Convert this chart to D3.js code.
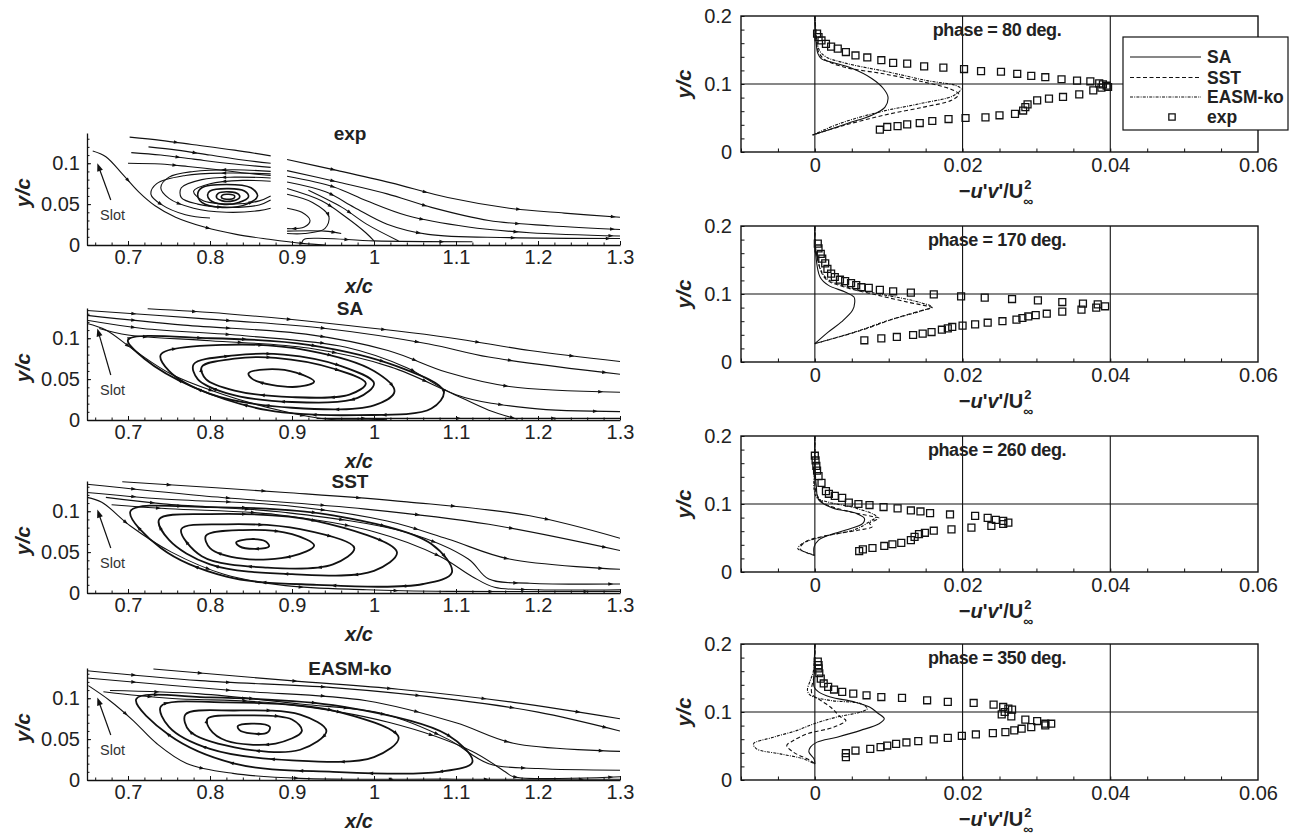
<!DOCTYPE html>
<html>
<head>
<meta charset="utf-8">
<script src="https://cdn.jsdelivr.net/npm/d3@7"></script>
<style>
  body { margin: 0; background: #fff; }
  svg, svg text { font-family: "Liberation Sans", Arial, Helvetica, sans-serif; }
  .tick text { font-size: 20px; fill: #222; font-family: "Liberation Sans", Arial, sans-serif; }
  .domain, .tick line { stroke: #111; }
</style>
</head>
<body>
<script>
// ---- left column: streamline panels ----
const leftTitles = ["exp", "SA", "SST", "EASM-ko"];
const leftXTicks = [0.7, 0.8, 0.9, 1, 1.1, 1.2, 1.3];
const leftYTicks = [0, 0.05, 0.1];
const slotTipY = [0.1, 0.112, 0.102, 0.101];

const expLines = [
  [[.657,.115],[.673,.108],[.693,.087],[.713,.065],[.733,.048],[.758,.034],[.793,.022],[.832,.013],[.872,.007],[.912,.002],[.941,0]],
  [[.702,.132],[.74,.128],[.778,.123],[.83,.116],[.874,.109]],
  [[.725,.12],[.76,.116],[.8,.11],[.84,.104],[.874,.1]],
  [[.704,.113],[.74,.11],[.78,.105],[.83,.099],[.874,.095]],
  [[.70,.1],[.74,.099],[.773,.096],[.81,.092],[.842,.088],[.874,.085]],
  [[.874,.09],[.83,.092],[.78,.09],[.75,.083],[.74,.07],[.75,.057],[.78,.045],[.82,.04],[.86,.042],[.874,.045]],
  [[.874,.087],[.82,.088],[.77,.085],[.735,.075],[.728,.062],[.74,.05],[.77,.037],[.8,.033]],
  [[.874,.082],[.83,.083],[.79,.08],[.765,.07],[.765,.058],[.785,.05],[.82,.046],[.86,.049],[.874,.055]],
  [[.874,.078],[.84,.079],[.8,.075],[.78,.066],[.79,.055],[.825,.05],[.86,.054],[.874,.06]],
  [[.894,.1045],[.956,.091],[1.021,.076],[1.09,.058],[1.165,.045],[1.232,.039],[1.3,.034]],
  [[.894,.091],[.956,.077],[1.016,.0625],[1.07,.046],[1.14,.03],[1.215,.0235],[1.3,.019]],
  [[.894,.084],[.951,.071],[.991,.054],[1.04,.036],[1.115,.022],[1.19,.015],[1.3,.011]],
  [[.894,.077],[.941,.065],[.976,.046],[1.016,.0255],[1.066,.013],[1.165,.009],[1.3,.008]],
  [[.894,.069],[.936,.054],[.966,.034],[.99,.015],[1.0,.005]],
  [[.92,.067],[.961,.046],[.991,.0255],[1.03,.005]],
  [[.894,.062],[.925,.052],[.945,.035],[.94,.02],[.915,.014],[.894,.014]],
  [[.894,.045],[.912,.04],[.922,.03],[.915,.022],[.894,.02]],
  [[.894,.017],[.94,.017],[.96,.014]],
  [[.912,.003],[.915,.007],[.94,.008],[1.0,.005],[1.12,.004]]
];
const expLoops = [
  [[.79,.07],[.82,.074],[.85,.07],[.858,.06],[.845,.05],[.815,.046],[.79,.052],[.785,.062]],
  [[.80,.066],[.823,.069],[.842,.066],[.847,.059],[.835,.052],[.815,.05],[.8,.055],[.797,.061]],
  [[.81,.063],[.823,.065],[.835,.062],[.836,.058],[.828,.054],[.815,.054],[.808,.058]],
  [[.815,.061],[.823,.062],[.83,.06],[.829,.057],[.82,.056],[.814,.058]]
];

const saLines = [
  [[.724,.136],[.82,.13],[.946,.118],[1.09,.101],[1.19,.085],[1.3,.0715]],
  [[.65,.134],[.79,.124],[.941,.112],[1.067,.093],[1.14,.077],[1.3,.056]],
  [[.65,.128],[.768,.116],[.917,.105],[1.017,.085],[1.09,.058],[1.165,.041],[1.3,.034]],
  [[.65,.122],[.718,.112],[.842,.103],[.966,.089],[1.04,.064],[1.1,.031],[1.19,.0145],[1.3,.0103]],
  [[.65,.118],[.673,.11],[.708,.085],[.753,.056],[.817,.031],[.891,.0103],[.941,.0012],[1.016,.001]],
  [[.665,.112],[.7,.104],[.8,.097],[.92,.088],[1.02,.065],[1.09,.035],[1.14,.012],[1.175,.001]],
  [[.93,.002],[1.1,.002],[1.3,.002]]
];
const saLoops = [
  [[.847,.057],[.87,.062],[.905,.058],[.927,.047],[.91,.041],[.875,.043],[.852,.05]],
  [[.79,.065],[.83,.075],[.88,.076],[.95,.063],[.99,.045],[.97,.031],[.9,.028],[.83,.036],[.795,.05]],
  [[.78,.068],[.83,.079],[.89,.08],[.96,.066],[1.0,.045],[.98,.027],[.9,.022],[.82,.033],[.785,.05]],
  [[.74,.08],[.82,.092],[.92,.085],[1.0,.06],[1.025,.035],[1.0,.018],[.9,.015],[.8,.032],[.75,.06]],
  [[.70,.098],[.8,.1],[.92,.092],[1.03,.065],[1.085,.035],[1.07,.014],[.98,.006],[.87,.012],[.78,.04],[.72,.075]]
];

const sstLines = [
  [[.693,.136],[.892,.123],[1.04,.1115],[1.19,.0945],[1.3,.067]],
  [[.65,.133],[.79,.119],[.99,.1026],[1.14,.084],[1.3,.052]],
  [[.65,.123],[.743,.115],[.892,.107],[1.016,.088],[1.09,.066],[1.165,.0415],[1.3,.029]],
  [[.673,.117],[.743,.109],[.892,.0985],[1.04,.074],[1.115,.0415],[1.14,.017],[1.19,.012],[1.3,.011]],
  [[.65,.117],[.668,.111],[.703,.082],[.753,.05],[.817,.023],[.892,.009],[.991,.004],[1.09,.002],[1.3,.002]],
  [[.68,.108],[.75,.103],[.88,.096],[1.0,.075],[1.08,.045],[1.12,.02],[1.147,.007],[1.2,.004],[1.3,.004]]
];
const sstLoops = [
  [[.832,.062],[.85,.066],[.868,.063],[.872,.057],[.855,.054],[.836,.057]],
  [[.795,.07],[.84,.077],[.9,.072],[.927,.058],[.9,.045],[.84,.042],[.8,.055]],
  [[.765,.078],[.82,.084],[.91,.078],[.976,.055],[.95,.035],[.87,.031],[.79,.045]],
  [[.738,.09],[.8,.0965],[.93,.088],[1.028,.05],[1.0,.027],[.9,.023],[.8,.035],[.75,.065]],
  [[.703,.1],[.8,.105],[.95,.095],[1.07,.06],[1.095,.025],[1.06,.011],[.93,.01],[.82,.02],[.74,.055]]
];

const easmLines = [
  [[.731,.1357],[.898,.1215],[1.03,.111],[1.17,.095],[1.3,.075]],
  [[.65,.1337],[.788,.1215],[.95,.113],[1.1,.098],[1.2,.083],[1.3,.06]],
  [[.65,.1248],[.828,.1094],[.991,.097],[1.1,.07],[1.17,.045],[1.3,.035]],
  [[.678,.1094],[.788,.1053],[.91,.093],[1.011,.081],[1.09,.05],[1.14,.02],[1.2,.014],[1.3,.012]],
  [[.6516,.1154],[.678,.097],[.706,.073],[.735,.0446],[.7716,.0203],[.828,.0081],[.91,.002],[1.1,.001],[1.3,.001]],
  [[.67,.108],[.75,.1],[.88,.094],[1.02,.07],[1.12,.035],[1.16,.01],[1.17,.004],[1.3,.004]]
];
const easmLoops = [
  [[.834,.066],[.853,.069],[.873,.065],[.87,.058],[.85,.057],[.836,.061]],
  [[.797,.075],[.84,.079],[.9,.074],[.912,.06],[.88,.0446],[.82,.048],[.8,.062]],
  [[.77,.08],[.83,.085],[.91,.08],[.942,.06],[.91,.037],[.83,.04],[.775,.06]],
  [[.74,.09],[.82,.095],[.95,.085],[1.03,.052],[1.0,.028],[.9,.024],[.8,.038],[.75,.065]],
  [[.71,.099],[.8,.101],[.96,.09],[1.09,.055],[1.12,.022],[1.08,.01],[.95,.01],[.83,.02],[.75,.055]]
];

// ---- right column: -u'v' profiles ----
const phases = [80, 170, 260, 350];
const rightXTicks = [0, 0.02, 0.04, 0.06];
const rightYTicks = [0, 0.1, 0.2];
const seriesNames = ["SA", "SST", "EASM-ko", "exp"];

const sa = [
  [[0,.2],[.0001,.174],[.0004,.145],[.0009,.137],[.0023,.132],[.005,.123],[.0077,.108],[.0093,.093],[.0099,.081],[.0095,.066],[.0077,.054],[.0044,.042],[.0017,.032],[-.0003,.025]],
  [[0,.2],[.0001,.16],[.0007,.125],[.0018,.113],[.0041,.103],[.0053,.0956],[.0054,.088],[.0051,.076],[.0036,.059],[.0018,.044],[0,.027]],
  [[0,.2],[0,.16],[.0002,.126],[.0005,.1065],[.0024,.094],[.0055,.0866],[.0067,.079],[.0065,.0716],[.0042,.0617],[.0019,.0542],[.0005,.0468],[-.0001,.0368],[-.0001,.0244]],
  [[0,.2],[-.0001,.16],[-.0001,.137],[.0005,.1296],[.0021,.122],[.0053,.115],[.0074,.1074],[.0085,.0985],[.0094,.090],[.0087,.0828],[.0062,.073],[.003,.063],[.0003,.0557],[-.0006,.0483],[-.0008,.0409],[-.0001,.031],[0,.0236]]
];
const sst = [
  [[0,.2],[.0002,.17],[.0004,.15],[.0012,.137],[.0039,.125],[.0093,.115],[.0147,.103],[.0185,.092],[.0195,.085],[.0185,.076],[.0147,.066],[.0093,.054],[.0039,.039],[-.0003,.025]],
  [[0,.2],[.0002,.16],[.0014,.123],[.0041,.110],[.0086,.098],[.0126,.088],[.0153,.082],[.0159,.080],[.0149,.077],[.0108,.064],[.0063,.0466],[0,.027]],
  [[0,.2],[0,.16],[.0002,.116],[.0012,.1015],[.0046,.089],[.0078,.0816],[.0087,.079],[.0074,.0716],[.0078,.0667],[.006,.0617],[.0019,.0542],[-.0013,.0443],[-.002,.0343],[-.0008,.0269],[0,.0244]],
  [[0,.2],[0,.16],[-.0004,.127],[.0008,.117],[.0021,.1074],[.0028,.1],[.0035,.0926],[.0042,.0877],[.0026,.0778],[-.001,.068],[-.0029,.0581],[-.0038,.0507],[-.0029,.0409],[-.0006,.0286],[0,.0236]]
];
const easm = [
  [[0,.2],[.0002,.17],[.0006,.15],[.0015,.14],[.0044,.130],[.0098,.118],[.0152,.105],[.019,.098],[.0198,.093],[.0188,.083],[.0142,.071],[.0088,.059],[.0034,.042],[-.0003,.025]],
  [[0,.2],[.0002,.16],[.0014,.125],[.0045,.110],[.009,.0995],[.0135,.0897],[.0158,.081],[.0147,.076],[.0099,.061],[.0054,.044],[0,.027]],
  [[0,.2],[0,.16],[-.0001,.121],[.0003,.109],[.0019,.1025],[.0055,.094],[.0083,.0816],[.0074,.0741],[.0055,.0627],[.001,.0517],[-.0017,.0418],[-.0023,.0343],[-.0013,.0294],[0,.0244]],
  [[0,.2],[-.0002,.16],[-.0006,.147],[-.001,.132],[-.0006,.1246],[.0021,.117],[.0062,.1123],[.0071,.105],[.0062,.1],[.003,.0926],[-.0001,.0828],[-.0024,.073],[-.0056,.063],[-.0083,.0532],[-.0079,.0458],[-.0047,.0384],[-.0015,.031],[0,.0236]]
];
const expData = [
  [[.0003,.174],[.0005,.169],[.0009,.164],[.0015,.159],[.0022,.155],[.0031,.152],[.0042,.147],[.0055,.142],[.0071,.139],[.009,.135],[.0106,.131],[.0125,.130],[.0148,.126],[.0174,.124],[.0202,.122],[.0225,.119],[.0252,.118],[.0274,.115],[.0293,.112],[.0312,.110],[.0334,.107],[.0355,.105],[.0373,.104],[.0385,.101],[.039,.0995],[.0395,.0975],[.0397,.0956],[.0388,.0946],[.0377,.0907],[.0358,.0848],[.0336,.0809],[.0317,.0784],[.0301,.076],[.0288,.070],[.0285,.066],[.0282,.061],[.0271,.056],[.025,.054],[.0231,.051],[.0204,.050],[.0181,.0485],[.0159,.0456],[.0142,.0426],[.0125,.0407],[.0112,.038],[.0098,.0368],[.0088,.0328]],
  [[.0004,.174],[.0005,.167],[.0008,.159],[.001,.152],[.0014,.145],[.0017,.137],[.0022,.130],[.0027,.125],[.0034,.121],[.0041,.119],[.0049,.116],[.0056,.113],[.0063,.110],[.0073,.109],[.0088,.106],[.0106,.104],[.013,.102],[.0161,.0995],[.0198,.0966],[.023,.0946],[.0267,.0926],[.0302,.0907],[.0335,.0882],[.0363,.0858],[.0383,.0848],[.0393,.0819],[.0381,.080],[.0361,.077],[.0335,.074],[.0314,.071],[.0299,.069],[.0289,.067],[.0281,.0647],[.0273,.0623],[.0254,.060],[.0234,.0578],[.0217,.0554],[.02,.0534],[.0186,.0515],[.018,.0495],[.0172,.0475],[.0158,.0441],[.0146,.0417],[.0133,.0397],[.0111,.0368],[.009,.0348],[.0067,.0319]],
  [[0,.171],[.0001,.164],[.0002,.156],[.0003,.149],[.0005,.141],[.0009,.131],[.0015,.119],[.0019,.115],[.0027,.112],[.0037,.109],[.0046,.102],[.0059,.100],[.0074,.0985],[.0093,.0955],[.0112,.0935],[.013,.0905],[.0143,.089],[.0156,.0866],[.0183,.0846],[.0217,.0826],[.0234,.0796],[.0245,.0766],[.0255,.0751],[.0262,.0726],[.0255,.0706],[.0239,.0677],[.0212,.0652],[.0185,.0627],[.0161,.0607],[.0149,.0577],[.0141,.0557],[.0135,.0517],[.013,.0468],[.0117,.0428],[.0105,.0408],[.0094,.0383],[.0078,.0353],[.0065,.0333],[.006,.0308]],
  [[.0004,.174],[.0005,.169],[.0005,.164],[.0006,.157],[.0008,.149],[.0012,.142],[.0018,.137],[.0026,.133],[.0037,.1296],[.0052,.127],[.007,.1246],[.009,.122],[.0118,.1207],[.0152,.1172],[.018,.1148],[.0215,.1133],[.0242,.1108],[.0255,.1074],[.0262,.105],[.0267,.1034],[.0257,.1],[.0253,.0966],[.0266,.0936],[.0285,.0887],[.0301,.0867],[.0312,.0828],[.032,.0828],[.0312,.0803],[.0293,.0778],[.028,.0754],[.027,.0729],[.0258,.0704],[.0241,.069],[.0218,.067],[.0199,.065],[.018,.062],[.0161,.0596],[.014,.0571],[.0124,.0552],[.011,.0532],[.0098,.0507],[.0089,.0483],[.0075,.0458],[.0055,.0433],[.0042,.0394],[.0042,.0335]]
];

// ---- layout ----
const width = 1291, height = 836;
const leftBottoms = [245, 420, 593, 780];
const rightTops = [16, 226, 436, 644];
const dashes = {"SA": null, "SST": "4,2.5", "EASM-ko": "3,1.2,1,1.2"};

const svg = d3.select("body").append("svg")
    .attr("width", width)
    .attr("height", height);

const defs = svg.append("defs");
const fmt = d => String(+d.toFixed(3));

// arrowheads placed along a drawn streamline
function addArrows(g, node, spacing) {
  const total = node.getTotalLength();
  for (let L = spacing * 0.5; L < total - 4; L += spacing) {
    const p = node.getPointAtLength(L);
    const q = node.getPointAtLength(Math.min(total, L + 1));
    const ang = Math.atan2(q.y - p.y, q.x - p.x) * 180 / Math.PI;
    g.append("path")
      .attr("d", "M2,0L-3,-1.8L-3,1.8Z")
      .attr("fill", "#111")
      .attr("transform", `translate(${p.x},${p.y}) rotate(${ang})`);
  }
}

const xL = d3.scaleLinear().domain([0.65, 1.3]).range([87, 620]);
const leftSets = [
  {lines: expLines, loops: expLoops},
  {lines: saLines, loops: saLoops},
  {lines: sstLines, loops: sstLoops},
  {lines: easmLines, loops: easmLoops}
];

leftSets.forEach((set, i) => {
  const bottom = leftBottoms[i];
  const yL = d3.scaleLinear().domain([0, 0.137]).range([bottom, bottom - 112]);
  const g = svg.append("g");

  defs.append("clipPath").attr("id", "clipL" + i)
    .append("rect")
      .attr("x", xL(0.65)).attr("y", yL(0.137))
      .attr("width", xL(1.3) - xL(0.65)).attr("height", yL(0) - yL(0.137));

  const plot = g.append("g").attr("clip-path", `url(#clipL${i})`);
  const line = d3.line().x(d => xL(d[0])).y(d => yL(d[1])).curve(d3.curveCatmullRom);
  const loop = d3.line().x(d => xL(d[0])).y(d => yL(d[1])).curve(d3.curveCatmullRomClosed);

  set.lines.forEach(pts => {
    const p = plot.append("path")
      .attr("d", line(pts))
      .attr("fill", "none")
      .attr("stroke", "#111")
      .attr("stroke-width", 1.1);
    addArrows(plot, p.node(), 95);
  });
  set.loops.forEach(pts => {
    const p = plot.append("path")
      .attr("d", loop(pts))
      .attr("fill", "none")
      .attr("stroke", "#111")
      .attr("stroke-width", i === 0 ? 1.6 : 1.8);
    if (i > 0) addArrows(plot, p.node(), 70);
  });

  // axes (left and bottom only, ticks pointing inward)
  g.append("g").attr("transform", `translate(0,${bottom})`)
    .call(d3.axisBottom(xL).tickValues(leftXTicks).tickFormat(fmt).tickSize(-4).tickSizeOuter(0).tickPadding(5));
  g.append("g").attr("transform", `translate(0,${bottom})`)
    .call(d3.axisBottom(xL).tickValues(d3.range(33).map(k => 0.66 + k * 0.02).filter(v => v < 1.3)).tickFormat("").tickSize(-2.5).tickSizeOuter(0))
    .select(".domain").remove();
  g.append("g").attr("transform", `translate(${xL(0.65)},0)`)
    .call(d3.axisLeft(yL).tickValues(leftYTicks).tickFormat(fmt).tickSize(-4).tickSizeOuter(0).tickPadding(7));
  g.append("g").attr("transform", `translate(${xL(0.65)},0)`)
    .call(d3.axisLeft(yL).tickValues(d3.range(14).map(k => k * 0.01)).tickFormat("").tickSize(-2.5).tickSizeOuter(0))
    .select(".domain").remove();
  g.selectAll(".domain").attr("stroke-width", 1.3);

  g.append("text")
    .attr("x", 350).attr("y", yL(0.137) + 7)
    .attr("text-anchor", "middle")
    .attr("font-size", 19).attr("font-weight", "bold").attr("fill", "#222")
    .text(leftTitles[i]);

  g.append("text")
    .attr("transform", `translate(30,${yL(0.064)}) rotate(-90)`)
    .attr("text-anchor", "middle")
    .attr("font-size", 21).attr("font-weight", "bold").attr("font-style", "italic").attr("fill", "#222")
    .text("y/c");

  g.append("text")
    .attr("x", 359).attr("y", bottom + 48)
    .attr("text-anchor", "middle")
    .attr("font-size", 20).attr("font-weight", "bold").attr("font-style", "italic").attr("fill", "#222")
    .text("x/c");

  // Slot annotation
  const tail = [xL(0.679), yL(0.055)];
  const tip = [xL(0.6626), yL(slotTipY[i])];
  const ang = Math.atan2(tip[1] - tail[1], tip[0] - tail[0]);
  const head = [tip[0] - 7 * Math.cos(ang), tip[1] - 7 * Math.sin(ang)];
  g.append("line")
    .attr("x1", tail[0]).attr("y1", tail[1]).attr("x2", head[0]).attr("y2", head[1])
    .attr("stroke", "#111").attr("stroke-width", 1.2);
  g.append("path")
    .attr("d", "M0,0L-8,-3L-8,3Z")
    .attr("fill", "#111")
    .attr("transform", `translate(${tip[0]},${tip[1]}) rotate(${ang * 180 / Math.PI})`);
  g.append("text")
    .attr("x", xL(0.6659)).attr("y", yL(0.031))
    .attr("font-size", 14.5).attr("fill", "#333")
    .text("Slot");
});

// ---- right column ----
const xR = d3.scaleLinear().domain([-0.01, 0.06]).range([741, 1258]);

phases.forEach((phase, i) => {
  const top = rightTops[i];
  const yR = d3.scaleLinear().domain([0, 0.2]).range([top + 136, top]);
  const g = svg.append("g");

  defs.append("clipPath").attr("id", "clipR" + i)
    .append("rect")
      .attr("x", xR(-0.01)).attr("y", top)
      .attr("width", xR(0.06) - xR(-0.01)).attr("height", 136);

  // grid lines
  g.selectAll(".vgrid").data([0, 0.02, 0.04]).join("line")
    .attr("x1", d => xR(d)).attr("x2", d => xR(d))
    .attr("y1", top).attr("y2", top + 136)
    .attr("stroke", "#111").attr("stroke-width", 1.1);
  g.append("line")
    .attr("x1", xR(-0.01)).attr("x2", xR(0.06))
    .attr("y1", yR(0.1)).attr("y2", yR(0.1))
    .attr("stroke", "#111").attr("stroke-width", 1.1);

  g.append("g").attr("transform", `translate(0,${top + 136})`)
    .call(d3.axisBottom(xR).tickValues(rightXTicks).tickFormat(fmt).tickSize(0).tickSizeOuter(0).tickPadding(6))
    .select(".domain").remove();
  g.append("g").attr("transform", `translate(0,${top + 136})`)
    .call(d3.axisBottom(xR).tickValues(d3.range(14).map(k => -0.01 + k * 0.005)).tickFormat("").tickSize(-3.5).tickSizeOuter(0))
    .select(".domain").remove();
  g.append("g").attr("transform", `translate(${xR(-0.01)},0)`)
    .call(d3.axisLeft(yR).tickValues(rightYTicks).tickFormat(fmt).tickSize(0).tickSizeOuter(0).tickPadding(9))
    .select(".domain").remove();
  g.append("g").attr("transform", `translate(${xR(-0.01)},0)`)
    .call(d3.axisLeft(yR).tickValues(d3.range(11).map(k => k * 0.02)).tickFormat("").tickSize(-3.5).tickSizeOuter(0))
    .select(".domain").remove();

  g.append("rect")
    .attr("x", xR(-0.01)).attr("y", top)
    .attr("width", xR(0.06) - xR(-0.01)).attr("height", 136)
    .attr("fill", "none").attr("stroke", "#111").attr("stroke-width", 1.4);

  const plot = g.append("g").attr("clip-path", `url(#clipR${i})`);
  const line = d3.line().x(d => xR(d[0])).y(d => yR(d[1])).curve(d3.curveCatmullRom);
  [["SA", sa[i]], ["SST", sst[i]], ["EASM-ko", easm[i]]].forEach(([name, pts]) => {
    plot.append("path")
      .attr("d", line(pts))
      .attr("fill", "none")
      .attr("stroke", "#111")
      .attr("stroke-width", 1.1)
      .attr("stroke-dasharray", dashes[name]);
  });

  plot.selectAll(".exp").data(expData[i]).join("path")
    .attr("d", d3.symbol(d3.symbolSquare, 48))
    .attr("transform", d => `translate(${xR(d[0])},${yR(d[1])})`)
    .attr("fill", "none")
    .attr("stroke", "#111")
    .attr("stroke-width", 1.3);

  g.append("text")
    .attr("x", 997).attr("y", top + 20)
    .attr("text-anchor", "middle")
    .attr("font-size", 18).attr("font-weight", "bold").attr("fill", "#222")
    .attr("letter-spacing", -0.4)
    .text(`phase = ${phase} deg.`);

  g.append("text")
    .attr("transform", `translate(691,${top + 68}) rotate(-90)`)
    .attr("text-anchor", "middle")
    .attr("font-size", 21).attr("font-weight", "bold").attr("font-style", "italic").attr("fill", "#222")
    .text("y/c");

  // x title: -u'v'/U with stacked superscript 2 and subscript infinity
  const base = top + 136 + 46;
  const xt = g.append("text")
    .attr("x", 0).attr("y", base)
    .attr("font-size", 20).attr("font-weight", "bold").attr("fill", "#222");
  xt.append("tspan").text("\u2212");
  xt.append("tspan").attr("font-style", "italic").text("u");
  xt.append("tspan").text("'");
  xt.append("tspan").attr("font-style", "italic").text("v");
  xt.append("tspan").text("'/U");
  const w = xt.node().getComputedTextLength();
  const x0 = 996 - (w + 10) / 2;
  xt.attr("x", x0);
  g.append("text")
    .attr("x", x0 + w + 1).attr("y", base - 9)
    .attr("font-size", 13).attr("font-weight", "bold").attr("fill", "#222")
    .text("2");
  g.append("text")
    .attr("x", x0 + w).attr("y", base + 8)
    .attr("font-size", 14).attr("font-weight", "bold").attr("fill", "#222")
    .text("\u221E");
});

// ---- legend (top right panel) ----
const lg = svg.append("g");
lg.append("rect")
  .attr("x", 1123).attr("y", 37).attr("width", 165).attr("height", 93)
  .attr("fill", "#fff").attr("stroke", "#111").attr("stroke-width", 1.2);
const legendY = [57, 77.5, 97, 117];
seriesNames.forEach((name, k) => {
  if (name === "exp") {
    lg.append("path")
      .attr("d", d3.symbol(d3.symbolSquare, 40))
      .attr("transform", `translate(1172,${legendY[k]})`)
      .attr("fill", "none").attr("stroke", "#111").attr("stroke-width", 1.3);
  } else {
    lg.append("line")
      .attr("x1", 1130).attr("x2", 1201)
      .attr("y1", legendY[k]).attr("y2", legendY[k])
      .attr("stroke", "#111").attr("stroke-width", 1.1)
      .attr("stroke-dasharray", dashes[name]);
  }
  lg.append("text")
    .attr("x", 1207).attr("y", legendY[k] + 6)
    .attr("font-size", 17.5).attr("font-weight", "bold").attr("fill", "#222")
    .text(name);
});
</script>
</body>
</html>
